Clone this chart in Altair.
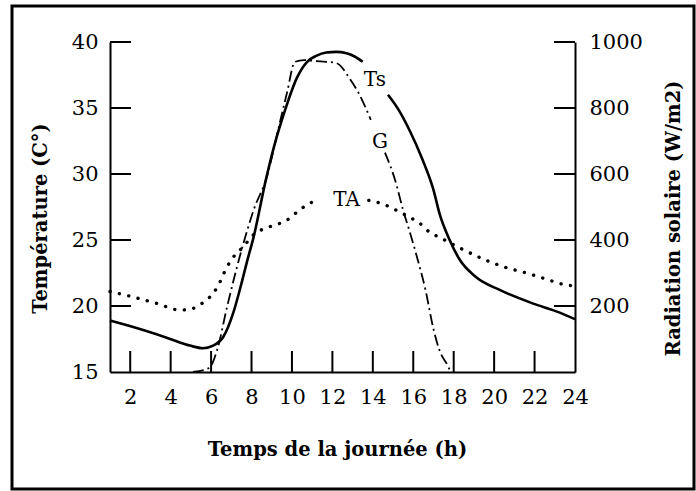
import altair as alt
import pandas as pd

FONT = "DejaVu Serif"

# ---- data ----
ts_hours = [1, 2.15, 3.8, 4.95, 5.6, 6.1, 6.6, 7.1, 7.45, 7.8, 8.1, 8.7, 9.1, 9.65,
            10.25, 10.75, 11.2, 11.7, 12.2, 12.7, 13.1, 13.5,
            14.75, 15.3, 15.85, 16.4, 17.0, 17.3, 17.8, 18.3, 19.1, 20.3, 21.9, 23.25, 24]
ts_vals = [18.9, 18.4, 17.6, 17.0, 16.8, 17.0, 17.65, 19.5, 21.4, 23.5, 25.2, 29.5, 32.0, 34.8,
           37.3, 38.5, 38.95, 39.2, 39.25, 39.15, 38.9, 38.5,
           36.0, 34.8, 33.2, 31.3, 28.8, 27.0, 25.0, 23.5, 22.2, 21.2, 20.2, 19.5, 19.0]
ts_seg = [0] * 22 + [1] * 13

ta_hours = [1, 2.1, 3.3, 4.45, 4.95, 5.45, 5.95, 6.3, 6.8, 7.1, 7.6, 8.1, 8.9, 9.75, 10.4, 10.9, 11.4,
            13.8, 14.35, 14.85, 15.35, 15.85, 16.3, 16.8, 17.3, 18.3, 19.4, 20.4, 21.6, 22.65, 23.25, 24]
ta_vals = [21.1, 20.7, 20.2, 19.7, 19.75, 20.1, 20.7, 21.4, 23.0, 23.7, 24.5, 25.4, 26.0, 26.5, 27.3, 27.8, 28.0,
           28.0, 27.8, 27.5, 27.1, 26.7, 26.3, 25.6, 25.2, 24.4, 23.6, 23.0, 22.5, 22.0, 21.7, 21.5]
ta_seg = [0] * 17 + [1] * 15

g_hours = [5.1, 5.9, 6.3, 6.8, 7.6, 8.1, 8.8, 9.2, 9.75, 10.15, 10.6, 11.2, 11.7, 12.2, 12.9, 13.3, 13.9,
           14.6, 15.1, 15.5, 15.85, 16.2, 16.6, 17.0, 17.3, 17.7, 17.85]
g_vals = [0, 12, 67, 200, 390, 490, 600, 703, 845, 940, 945, 942, 940, 936, 885, 845, 764,
          665, 582, 490, 420, 345, 250, 130, 65, 20, 0]
g_seg = [0] * 17 + [1] * 10

x_tick_values = [2, 4, 6, 8, 10, 12, 14, 16, 18, 20, 22, 24]
x_inner_ticks = [2, 4, 6, 8, 10, 12, 14, 16, 18, 20, 22]
t_tick_values = [15, 20, 25, 30, 35, 40]
t_inner_ticks = [20, 25, 30, 35, 40]
r_tick_values = [200, 400, 600, 800, 1000]

label_names = ["Ts", "G", "TA"]
label_hours = [14.1, 14.35, 12.7]
label_temps = [37.1, 32.4, 28.0]

# ---- frames ----
ts_df = pd.DataFrame({"h": ts_hours, "T": ts_vals, "seg": ts_seg})
ta_df = pd.DataFrame({"h": ta_hours, "T": ta_vals, "seg": ta_seg})
g_df = pd.DataFrame({"h": g_hours, "R": g_vals, "seg": g_seg})
xt_df = pd.DataFrame({"h": x_inner_ticks})
tt_df = pd.DataFrame({"T": t_inner_ticks})
rt_df = pd.DataFrame({"R": r_tick_values})
lab_df = pd.DataFrame({"name": label_names, "h": label_hours, "T": label_temps})

W, H = 465, 330
X0, X1 = 1, 24
T0, T1 = 15, 40
R0, R1 = 0, 1000
TICK = 21  # inner tick length in pixels

x_scale = alt.Scale(domain=[X0, X1], nice=False, zero=False)
t_scale = alt.Scale(domain=[T0, T1], nice=False, zero=False)
r_scale = alt.Scale(domain=[R0, R1], nice=False, zero=False)

common = dict(
    grid=False, ticks=False, tickSize=0, domain=True, domainColor="black", domainWidth=2,
    labelFont=FONT, labelFontSize=21, labelColor="black",
    titleFont=FONT, titleFontSize=19.5, titleFontWeight="bold", titleColor="black",
)

x_axis = alt.Axis(values=x_tick_values, labelPadding=14, title="Temps de la journée (h)",
                  titleX=227, titleY=77, titleBaseline="middle", labelFlush=False, format="d", **common)
t_axis = alt.Axis(values=t_tick_values, orient="left", labelPadding=12, title="Température (C°)",
                  titleX=-70, titleY=176, titleAngle=270, titleBaseline="middle", format="d", **common)
r_axis = alt.Axis(values=r_tick_values, orient="right", labelPadding=14,
                  title="Radiation solaire  (W/m2)", format="d",
                  titleX=98, titleY=176, titleAngle=270, titleBaseline="middle", **common)

ts_line = alt.Chart(ts_df).mark_line(color="black", strokeWidth=2.6, interpolate="monotone").encode(
    x=alt.X("h:Q", scale=x_scale, axis=x_axis),
    y=alt.Y("T:Q", scale=t_scale, axis=t_axis),
    detail="seg:N",
)
ta_line = alt.Chart(ta_df).mark_line(color="black", strokeWidth=3.4, strokeDash=[0.1, 9.5],
                                      strokeCap="round", interpolate="monotone").encode(
    x="h:Q", y="T:Q", detail="seg:N",
)
x_ticks = alt.Chart(xt_df).transform_calculate(
    ya=f"{T0}", yb=f"{T0} + {(T1 - T0) * TICK / H}"
).mark_rule(color="black", strokeWidth=2).encode(
    x="h:Q", y="ya:Q", y2="yb:Q",
)
t_ticks = alt.Chart(tt_df).transform_calculate(
    xa=f"{X0}", xb=f"{X0} + {(X1 - X0) * TICK / W}"
).mark_rule(color="black", strokeWidth=2).encode(
    y="T:Q", x="xa:Q", x2="xb:Q",
)
labels = alt.Chart(lab_df).mark_text(font=FONT, fontSize=20, color="black").encode(
    x="h:Q", y="T:Q", text="name:N",
)
frame = alt.Chart(alt.Data(values=[{}])).mark_rect(filled=False, stroke="black", strokeWidth=3).encode(
    x=alt.value(-98), x2=alt.value(584), y=alt.value(-36), y2=alt.value(447),
)

temp_group = alt.layer(frame, ts_line, ta_line, x_ticks, t_ticks, labels)

g_line = alt.Chart(g_df).mark_line(color="black", strokeWidth=1.8, strokeDash=[11, 4, 2, 4],
                                   interpolate="monotone").encode(
    x="h:Q",
    y=alt.Y("R:Q", scale=r_scale, axis=r_axis),
    detail="seg:N",
)
r_ticks = alt.Chart(rt_df).transform_calculate(
    xa=f"{X1} - {(X1 - X0) * TICK / W}", xb=f"{X1}"
).mark_rule(color="black", strokeWidth=2).encode(
    y="R:Q", x="xa:Q", x2="xb:Q",
)
rad_group = alt.layer(g_line, r_ticks)

chart = alt.layer(temp_group, rad_group).resolve_scale(y="independent").properties(
    width=W, height=H,
    autosize=alt.AutoSizeParams(type="none"),
    padding={"left": 110, "top": 42, "right": 121, "bottom": 119},
    background="white",
).configure_view(stroke=None)

chart.save("out.html", embed_options={"renderer": "svg", "actions": False})
